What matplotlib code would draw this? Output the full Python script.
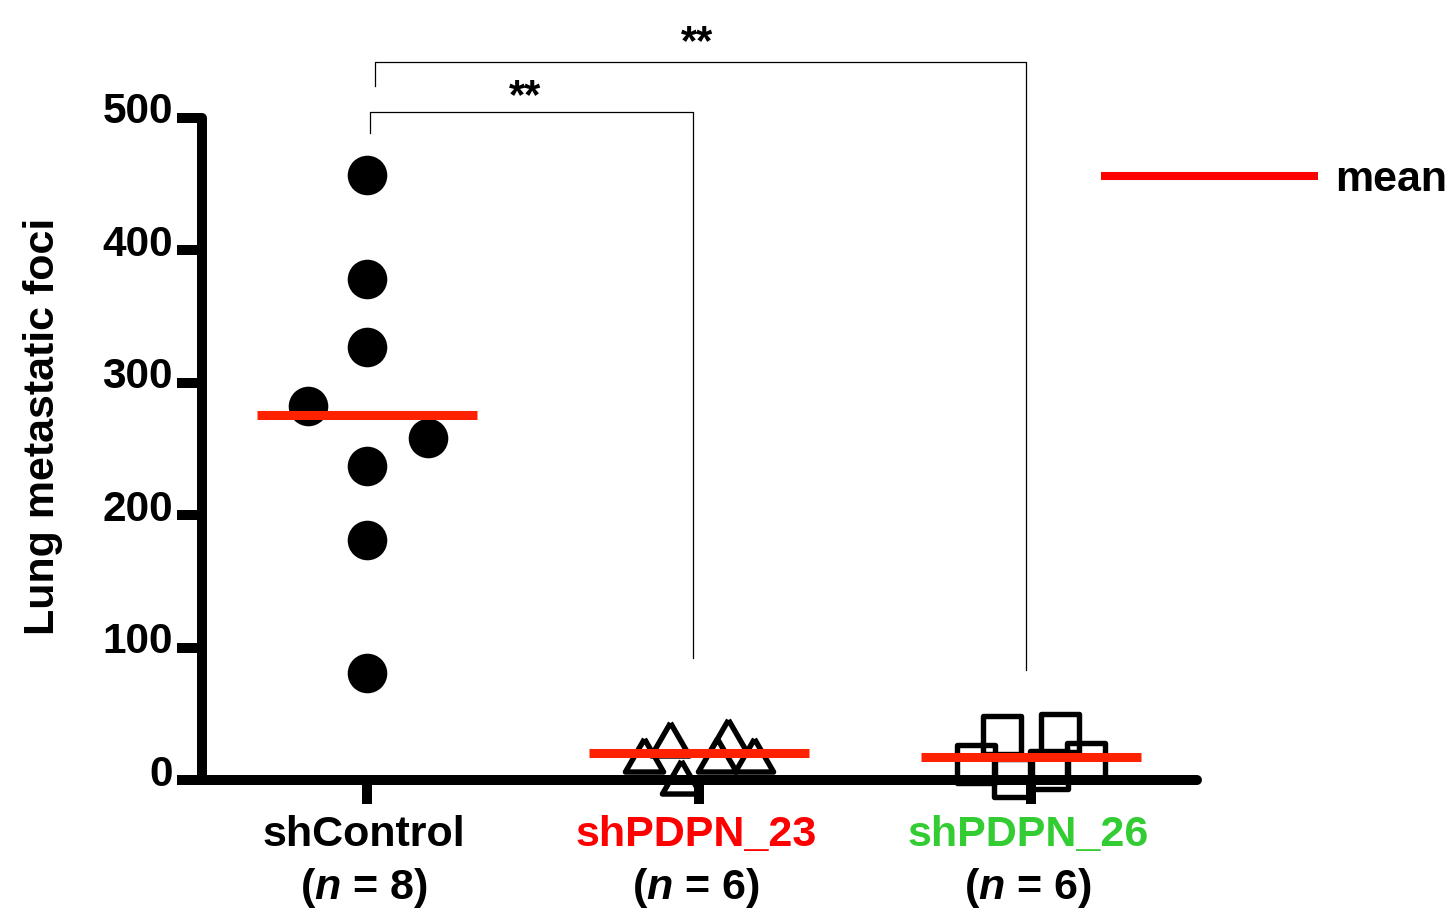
import numpy as np
import matplotlib
matplotlib.use("Agg")
import matplotlib.pyplot as plt
from matplotlib.markers import MarkerStyle
from matplotlib.lines import Line2D
from matplotlib.transforms import ScaledTranslation

plt.rcParams['font.family'] = ['Liberation Sans', 'DejaVu Sans']
plt.rcParams['font.weight'] = 'bold'
plt.rcParams['mathtext.fontset'] = 'custom'
plt.rcParams['mathtext.it'] = 'Liberation Sans:italic:bold'
plt.rcParams['mathtext.rm'] = 'Liberation Sans:bold'

# data
groups = ['shControl', 'shPDPN_23', 'shPDPN_26']
group_n = [8, 6, 6]
group_colors = ['black', '#ff0000', '#33cc33']

ctrl_vals = [457, 378, 327, 282, 258, 237, 181, 81]
ctrl_dx = [0, 0, 0, -0.178, 0.183, 0, 0, 0]

pd23_vals = [19, 31, 2.5, 19, 33.5, 19]
pd23_dx = [-0.165, -0.088, -0.055, 0.055, 0.088, 0.165]

pd26_vals = [12, 34, 1.5, 7.6, 35.4, 13.5]
pd26_dx = [-0.165, -0.088, -0.055, 0.055, 0.088, 0.165]

yticks = [0, 100, 200, 300, 400, 500]

fig = plt.figure(figsize=(14.49, 9.09), dpi=100)
ax = fig.add_axes([0.1394, 0.1419, 0.6867, 0.7288])

# circles
ax.plot(0 + np.array(ctrl_dx), ctrl_vals, 'o', color='black', ms=28.5,
        mew=0, linestyle='none', clip_on=False, zorder=3)

# hollow triangles
tri = MarkerStyle([(0, 1), (-1.155, -1), (1.155, -1), (0, 1)], joinstyle='round')
ax.plot(1 + np.array(pd23_dx), pd23_vals, linestyle='none', marker=tri,
        ms=27.5, mfc='none', mec='black', mew=3.9, clip_on=False, zorder=3)

# hollow squares
sq = MarkerStyle('s', joinstyle='round')
ax.plot(2 + np.array(pd26_dx), pd26_vals, linestyle='none', marker=sq,
        ms=27.4, mfc='none', mec='black', mew=3.9, clip_on=False, zorder=3)

# mean lines
for i, vals in enumerate([ctrl_vals, pd23_vals, pd26_vals]):
    m = np.mean(vals)
    ax.plot([i - 0.33, i + 0.33], [m, m], color='#ff2200', lw=6.5,
            solid_capstyle='butt', clip_on=False, zorder=4)

ax.set_xlim(-0.497, 2.5)
ax.set_ylim(0, 500)
ax.set_yticks(yticks)
ax.set_xticks([0, 1, 2])
ax.set_xticklabels(['', '', ''])
for s in ['top', 'right']:
    ax.spines[s].set_visible(False)
for s in ['left', 'bottom']:
    ax.spines[s].set_linewidth(7.2)
    ax.spines[s].set_capstyle('round')
ax.tick_params(axis='y', length=18, width=7.2, labelsize=30.5, pad=3)
ax.tick_params(axis='x', length=17, width=7.2)
for lab in ax.get_yticklabels():
    lab.set_fontweight('bold')
    lab.set_transform(lab.get_transform() + ScaledTranslation(0, 0.10, fig.dpi_scale_trans))

fig.text(43 / 1449, 1 - 426 / 909, 'Lung metastatic foci', rotation=90,
         ha='center', va='center', fontsize=31, fontweight='bold')

# category labels
for i, (g, n, c) in enumerate(zip(groups, group_n, group_colors)):
    ax.text(i - 0.008, -41.5, g, ha='center', va='center', fontsize=31,
            fontweight='bold', color=c, clip_on=False)
    ax.text(i - 0.008, -81.5, r'($\it{n}$ = %d)' % n, ha='center', va='center',
            fontsize=31, fontweight='bold', color='black', clip_on=False)

# significance brackets
ax.plot([0.010, 0.010, 0.983, 0.983], [488.5, 504.4, 504.4, 92],
        color='black', lw=0.9, clip_on=False)
ax.plot([0.024, 0.024, 1.985, 1.985], [523.8, 542.1, 542.1, 83],
        color='black', lw=0.9, clip_on=False)
ax.text(0.477, 507, '**', ha='center', va='baseline', fontsize=30,
        fontweight='bold', clip_on=False)
ax.text(0.995, 548, '**', ha='center', va='baseline', fontsize=30,
        fontweight='bold', clip_on=False)

# legend
handle = Line2D([], [], color='#ff0000', lw=5.8)
leg = ax.legend([handle], ['mean'], loc='center left', frameon=False,
                bbox_to_anchor=(1105 / 1449, 1 - 180 / 909),
                bbox_transform=fig.transFigure, borderpad=0, borderaxespad=0,
                handlelength=4.85, handletextpad=0.5,
                prop={'size': 31, 'weight': 'bold'})

fig.savefig('out.png', dpi=100)
